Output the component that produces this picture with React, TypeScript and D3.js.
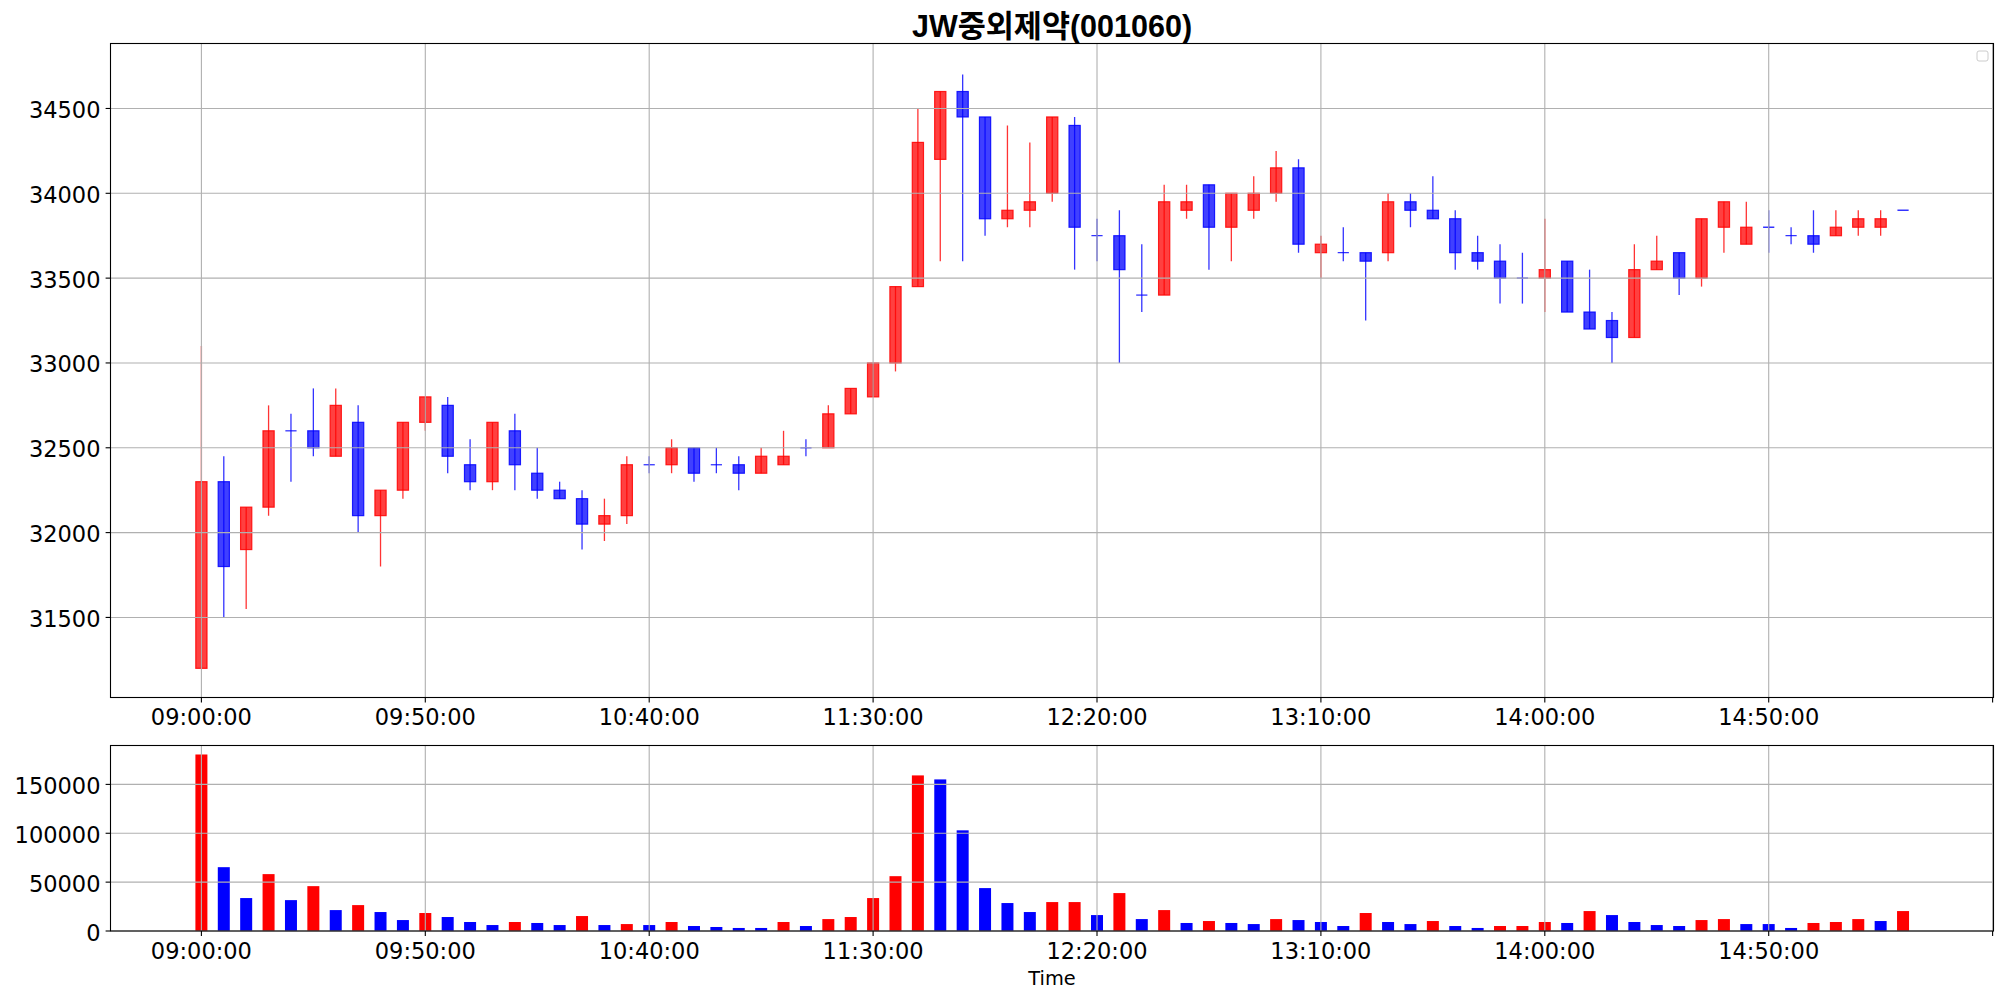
import * as d3 from 'd3';

// 5-minute bars, 09:00 .. 15:20
const times = [
  '09:00', '09:05', '09:10', '09:15', '09:20', '09:25', '09:30', '09:35', '09:40', '09:45',
  '09:50', '09:55', '10:00', '10:05', '10:10', '10:15', '10:20', '10:25', '10:30', '10:35',
  '10:40', '10:45', '10:50', '10:55', '11:00', '11:05', '11:10', '11:15', '11:20', '11:25',
  '11:30', '11:35', '11:40', '11:45', '11:50', '11:55', '12:00', '12:05', '12:10', '12:15',
  '12:20', '12:25', '12:30', '12:35', '12:40', '12:45', '12:50', '12:55', '13:00', '13:05',
  '13:10', '13:15', '13:20', '13:25', '13:30', '13:35', '13:40', '13:45', '13:50', '13:55',
  '14:00', '14:05', '14:10', '14:15', '14:20', '14:25', '14:30', '14:35', '14:40', '14:45',
  '14:50', '14:55', '15:00', '15:05', '15:10', '15:15', '15:20',
];

const opens = [
  31200, 32300, 31900, 32150, 32600, 32600, 32450, 32650, 32100, 32250,
  32650, 32750, 32400, 32300, 32600, 32350, 32250, 32200, 32050, 32100,
  32400, 32400, 32500, 32400, 32400, 32350, 32400, 32500, 32500, 32700,
  32800, 33000, 33450, 34200, 34600, 34450, 33850, 33900, 34000, 34400,
  33750, 33750, 33400, 33400, 33900, 34050, 33800, 33900, 34000, 34150,
  33650, 33650, 33650, 33650, 33950, 33900, 33850, 33650, 33600, 33500,
  33500, 33600, 33300, 33250, 33150, 33550, 33650, 33500, 33800, 33700,
  33800, 33750, 33750, 33750, 33800, 33800, 33900,
];
const highs = [
  33100, 32450, 32150, 32750, 32700, 32850, 32850, 32750, 32250, 32650,
  32800, 32800, 32550, 32650, 32700, 32500, 32300, 32250, 32200, 32450,
  32450, 32550, 32500, 32500, 32450, 32500, 32600, 32550, 32750, 32850,
  33000, 33450, 34500, 34600, 34700, 34450, 34400, 34300, 34450, 34450,
  33850, 33900, 33700, 34050, 34050, 34050, 34000, 34100, 34250, 34200,
  33750, 33800, 33650, 34000, 34000, 34100, 33900, 33750, 33700, 33650,
  33850, 33600, 33550, 33300, 33700, 33750, 33650, 33850, 33950, 33950,
  33900, 33800, 33900, 33900, 33900, 33900, 33900,
];
const lows = [
  31200, 31500, 31550, 32100, 32300, 32450, 32450, 32000, 31800, 32200,
  32600, 32350, 32250, 32250, 32250, 32200, 32200, 31900, 31950, 32050,
  32350, 32350, 32300, 32350, 32250, 32350, 32400, 32450, 32500, 32700,
  32800, 32950, 33450, 33600, 33600, 33750, 33800, 33800, 33950, 33550,
  33600, 33000, 33300, 33400, 33850, 33550, 33600, 33850, 33950, 33650,
  33500, 33600, 33250, 33600, 33800, 33850, 33550, 33550, 33350, 33350,
  33300, 33300, 33200, 33000, 33150, 33550, 33400, 33450, 33650, 33700,
  33650, 33700, 33650, 33750, 33750, 33750, 33900,
];
const closes = [
  32300, 31800, 32150, 32600, 32600, 32500, 32750, 32100, 32250, 32650,
  32800, 32450, 32300, 32650, 32400, 32250, 32200, 32050, 32100, 32400,
  32400, 32500, 32350, 32400, 32350, 32450, 32450, 32500, 32700, 32850,
  33000, 33450, 34300, 34600, 34450, 33850, 33900, 33950, 34450, 33800,
  33750, 33550, 33400, 33950, 33950, 33800, 34000, 34000, 34150, 33700,
  33700, 33650, 33600, 33950, 33900, 33850, 33650, 33600, 33500, 33500,
  33550, 33300, 33200, 33150, 33550, 33600, 33500, 33850, 33950, 33800,
  33800, 33750, 33700, 33800, 33850, 33850, 33900,
];
const volumes = [
  180600, 65300, 33700, 58200, 31600, 45900, 21400, 26500, 19400, 11200,
  18400, 14300, 9200, 6100, 9200, 8200, 6100, 15300, 6100, 7100,
  6100, 9200, 5100, 4100, 3100, 3100, 9200, 5100, 12200, 14300,
  33700, 56100, 159200, 155100, 103000, 43900, 28600, 19400, 29600, 29600,
  16300, 38800, 12200, 21400, 8200, 10200, 8200, 7100, 12200, 11200,
  9200, 5100, 18400, 9200, 7100, 10200, 5100, 3100, 5100, 5100,
  9200, 8200, 20400, 16300, 9200, 6100, 5100, 11200, 12200, 7100,
  7100, 3100, 8200, 9200, 12200, 10200, 20400,
];
// 1 = red (buy-side) volume bar, 0 = blue
const volumeUp = [
  1, 0, 0, 1, 0, 1, 0, 1, 0, 0,
  1, 0, 0, 0, 1, 0, 0, 1, 0, 1,
  0, 1, 0, 0, 0, 0, 1, 0, 1, 1,
  1, 1, 1, 0, 0, 0, 0, 0, 1, 1,
  0, 1, 0, 1, 0, 1, 0, 0, 1, 0,
  0, 0, 1, 0, 0, 1, 0, 0, 1, 1,
  1, 0, 1, 0, 0, 0, 0, 1, 1, 0,
  0, 0, 1, 1, 1, 0, 1,
];

const xTickLabels = ['09:00:00', '09:50:00', '10:40:00', '11:30:00', '12:20:00', '13:10:00', '14:00:00', '14:50:00'];
const priceTicks = [31500, 32000, 32500, 33000, 33500, 34000, 34500];
const volumeTicks = [0, 50000, 100000, 150000];

const W = 2004;
const H = 999;
const left = 110.5;
const right = 1993.5;
const main = { top: 43.5, bottom: 697.5 };
const vol = { top: 745.5, bottom: 931 };
const GRID = '#b0b0b0';
const TICK_FONT = "'DejaVu Sans', sans-serif";

const App = () => {
  const n = times.length;
  const x = d3.scaleLinear().domain([-4.06, 80.04]).range([left, right]);
  const y = d3.scaleLinear().domain([31028, 34883]).range([main.bottom, main.top]);
  const yv = d3.scaleLinear().domain([0, 189800]).range([vol.bottom, vol.top]);
  const xTicks = d3.range(0, 81, 10);
  const bodyHalf = 0.25;
  const barHalf = 0.268;

  const candles = d3.range(n).map(i => ({
    i,
    o: opens[i],
    h: highs[i],
    l: lows[i],
    c: closes[i],
  }));

  const xAxis = (bottom: number) => (
    <g>
      {xTicks.map((t, k) => (
        <g key={t}>
          <line x1={x(t)} x2={x(t)} y1={bottom} y2={bottom + 4.9} stroke="#000" strokeWidth={1.1} />
          {k < xTickLabels.length && (
            <text x={x(t)} y={bottom + 27.5} textAnchor="middle" fontSize={22.5} fontFamily={TICK_FONT}>
              {xTickLabels[k]}
            </text>
          )}
        </g>
      ))}
    </g>
  );

  const yAxis = (scale: d3.ScaleLinear<number, number>, ticks: number[]) => (
    <g>
      {ticks.map(t => (
        <g key={t}>
          <line x1={left - 4.9} x2={left} y1={scale(t)} y2={scale(t)} stroke="#000" strokeWidth={1.1} />
          <text x={left - 10} y={scale(t) + 9.5} textAnchor="end" fontSize={22.5} fontFamily={TICK_FONT}>
            {t}
          </text>
        </g>
      ))}
    </g>
  );

  const grid = (scale: d3.ScaleLinear<number, number>, ticks: number[], top: number, bottom: number) => (
    <g stroke={GRID} strokeWidth={1.1}>
      {xTicks.map(t => (
        <line key={'v' + t} x1={x(t)} x2={x(t)} y1={top} y2={bottom} />
      ))}
      {ticks.map(t => (
        <line key={'h' + t} x1={left} x2={right} y1={scale(t)} y2={scale(t)} />
      ))}
    </g>
  );

  return (
    <svg
      width={W}
      height={H}
      viewBox={`0 0 ${W} ${H}`}
      style={{ position: 'absolute', left: 0, top: 0, display: 'block', background: '#fff' }}
    >
      <rect x={0} y={0} width={W} height={H} fill="#fff" />

      {/* title */}
      <text
        x={(left + right) / 2}
        y={36.5}
        textAnchor="middle"
        fontSize={30.5}
        fontWeight="bold"
        fontFamily="'Liberation Sans', 'Noto Sans CJK KR', sans-serif"
      >
        JW중외제약(001060)
      </text>

      <defs>
        <clipPath id="mainClip">
          <rect x={left} y={main.top} width={right - left} height={main.bottom - main.top} />
        </clipPath>
        <clipPath id="volClip">
          <rect x={left} y={vol.top} width={right - left} height={vol.bottom - vol.top} />
        </clipPath>
      </defs>

      {/* candles */}
      <g clipPath="url(#mainClip)">
        {candles.map(d => {
          const up = d.c > d.o;
          const col = up ? '#ff0000' : '#0000ff';
          const fill = up ? 'rgba(255,0,0,0.75)' : 'rgba(0,0,255,0.75)';
          const x0 = x(d.i - bodyHalf);
          const x1 = x(d.i + bodyHalf);
          const yTop = y(Math.max(d.o, d.c));
          const yBot = y(Math.min(d.o, d.c));
          return (
            <g key={d.i}>
              <line x1={x(d.i)} x2={x(d.i)} y1={y(d.h)} y2={y(d.l)} stroke={col} strokeOpacity={0.8} strokeWidth={1.3} />
              {yBot - yTop < 0.5 ? (
                <line x1={x0} x2={x1} y1={yTop} y2={yTop} stroke={col} strokeOpacity={0.8} strokeWidth={1.3} />
              ) : (
                <rect x={x0} y={yTop} width={x1 - x0} height={yBot - yTop} fill={fill} stroke={col} strokeOpacity={0.85} strokeWidth={1.2} />
              )}
            </g>
          );
        })}
      </g>
      {grid(y, priceTicks, main.top, main.bottom)}
      <rect x={left} y={main.top} width={right - left} height={main.bottom - main.top} fill="none" stroke="#000" strokeWidth={1.1} />
      {xAxis(main.bottom)}
      {yAxis(y, priceTicks)}

      {/* empty legend box */}
      <rect x={1977} y={51} width={11} height={10} rx={2} fill="#fff" stroke="#cccccc" strokeWidth={1} />

      {/* volume */}
      <g clipPath="url(#volClip)">
        {volumes.map((v, i) => (
          <rect
            key={i}
            x={x(i - barHalf)}
            y={yv(v)}
            width={x(i + barHalf) - x(i - barHalf)}
            height={yv(0) - yv(v)}
            fill={volumeUp[i] ? '#ff0000' : '#0000ff'}
          />
        ))}
      </g>
      {grid(yv, volumeTicks, vol.top, vol.bottom)}
      <rect x={left} y={vol.top} width={right - left} height={vol.bottom - vol.top} fill="none" stroke="#000" strokeWidth={1.1} />
      {xAxis(vol.bottom)}
      {yAxis(yv, volumeTicks)}

      <text x={(left + right) / 2} y={985} textAnchor="middle" fontSize={19.4} fontFamily={TICK_FONT}>
        Time
      </text>
    </svg>
  );
};

export default App;
